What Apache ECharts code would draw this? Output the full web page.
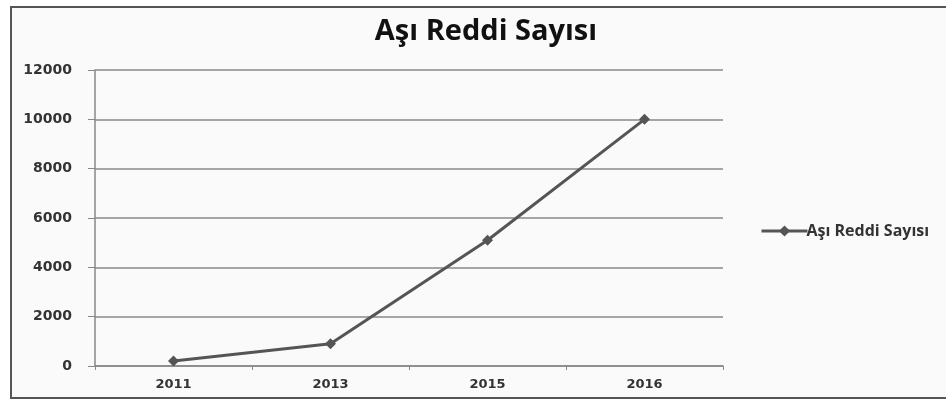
<!DOCTYPE html>
<html>
<head>
<meta charset="utf-8">
<script src="https://cdn.jsdelivr.net/npm/echarts@6/dist/echarts.min.js"></script>
<style>
html,body{margin:0;padding:0;background:#ffffff;overflow:hidden;width:946px;height:399px;}
#frame{position:absolute;left:10px;top:6px;width:960px;height:389px;border-left:2px solid #555;border-top:2px solid #555;border-bottom:2px solid #555;background:#fafafa;}
#chart{position:absolute;left:0;top:0;width:946px;height:399px;}
</style>
</head>
<body>
<div id="frame"></div>
<div id="chart"></div>
<script>
const titleText = "Aşı Reddi Sayısı";
const seriesName = "Aşı Reddi Sayısı";
const categories = ["2011", "2013", "2015", "2016"];
const values = [200, 900, 5100, 10000];
const yMin = 0, yMax = 12000, yInterval = 2000;

const chart = echarts.init(document.getElementById('chart'));
chart.setOption({
  backgroundColor: 'transparent',
  animation: false,
  title: {
    text: titleText,
    left: 481, top: 12, textAlign: 'center',
    textStyle: {fontFamily: 'Open Sans', fontWeight: 'bold', fontSize: 29, color: '#111'}
  },
  legend: {
    data: [seriesName],
    left: 755, top: 218,
    itemWidth: 46, itemHeight: 14, itemGap: 0,
    lineStyle: {width: 3},
    textStyle: {fontFamily: 'Open Sans', fontWeight: 'bold', fontSize: 16, color: '#333', padding: [0,0,0,-6]}
  },
  grid: {left: 95, right: 223, top: 70, bottom: 33, containLabel: false},
  xAxis: {
    type: 'category',
    data: categories,
    boundaryGap: true,
    axisLine: {lineStyle: {color: '#888', width: 1.5}},
    axisTick: {show: true, length: 4, lineStyle: {color: '#888'}},
    axisLabel: {fontFamily: 'DejaVu Sans', fontWeight: 'bold', fontSize: 13, color: '#333', margin: 12},
    splitLine: {show: false}
  },
  yAxis: {
    type: 'value',
    min: yMin, max: yMax, interval: yInterval,
    axisLine: {show: true, lineStyle: {color: '#888', width: 1.5}},
    axisTick: {show: true, length: 7, lineStyle: {color: '#888'}},
    axisLabel: {fontFamily: 'DejaVu Sans', fontWeight: 'bold', fontSize: 14, color: '#333', margin: 23,
      formatter: function (v) { return String(v); }},
    splitLine: {show: true, lineStyle: {color: '#888', width: 1.5}}
  },
  series: [{
    name: seriesName,
    type: 'line',
    data: values,
    symbol: 'diamond',
    symbolSize: 11,
    itemStyle: {color: '#555'},
    lineStyle: {color: '#555', width: 3}
  }]
});
</script>
</body>
</html>
